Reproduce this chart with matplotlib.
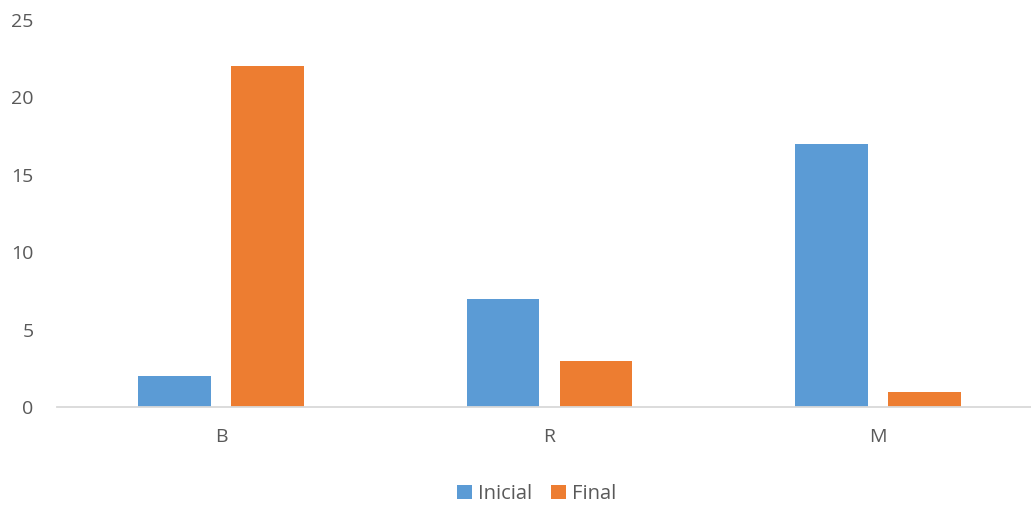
import matplotlib.pyplot as plt
import numpy as np

# datos
categorias = ['B', 'R', 'M']
inicial = [2, 7, 17]
final = [22, 3, 1]
yticks = [0, 5, 10, 15, 20, 25]

plt.rcParams['font.family'] = ['Open Sans', 'DejaVu Sans']

fig = plt.figure(figsize=(10.31, 5.08), dpi=100)
ax = fig.add_axes([0.0553, 0.1988, 0.9554, 0.7618])

x = np.arange(len(categorias))
ancho = 0.222
ax.bar(x - 0.1416, inicial, ancho, color='#5B9BD5', label='Inicial')
ax.bar(x + 0.1416, final, ancho, color='#ED7D31', label='Final')

ax.set_xlim(-0.5, 2.5)
ax.set_ylim(0, 25)
ax.set_xticks(x)
ax.set_xticklabels(categorias)
ax.set_yticks(yticks)

for s in ['top', 'right', 'left']:
    ax.spines[s].set_visible(False)
ax.spines['bottom'].set_color('#D9D9D9')
ax.spines['bottom'].set_linewidth(1.3)
ax.tick_params(axis='both', length=0, labelsize=14, colors='#595959')
ax.tick_params(axis='y', pad=17)
ax.tick_params(axis='x', pad=15)

ax.legend(loc='center', bbox_to_anchor=(0.487, -0.225), ncol=2, frameon=False,
          fontsize=14.5, labelcolor='#595959', handlelength=0.75, handleheight=0.75,
          handletextpad=0.3, columnspacing=0.95)

fig.savefig('out.png', dpi=100)
